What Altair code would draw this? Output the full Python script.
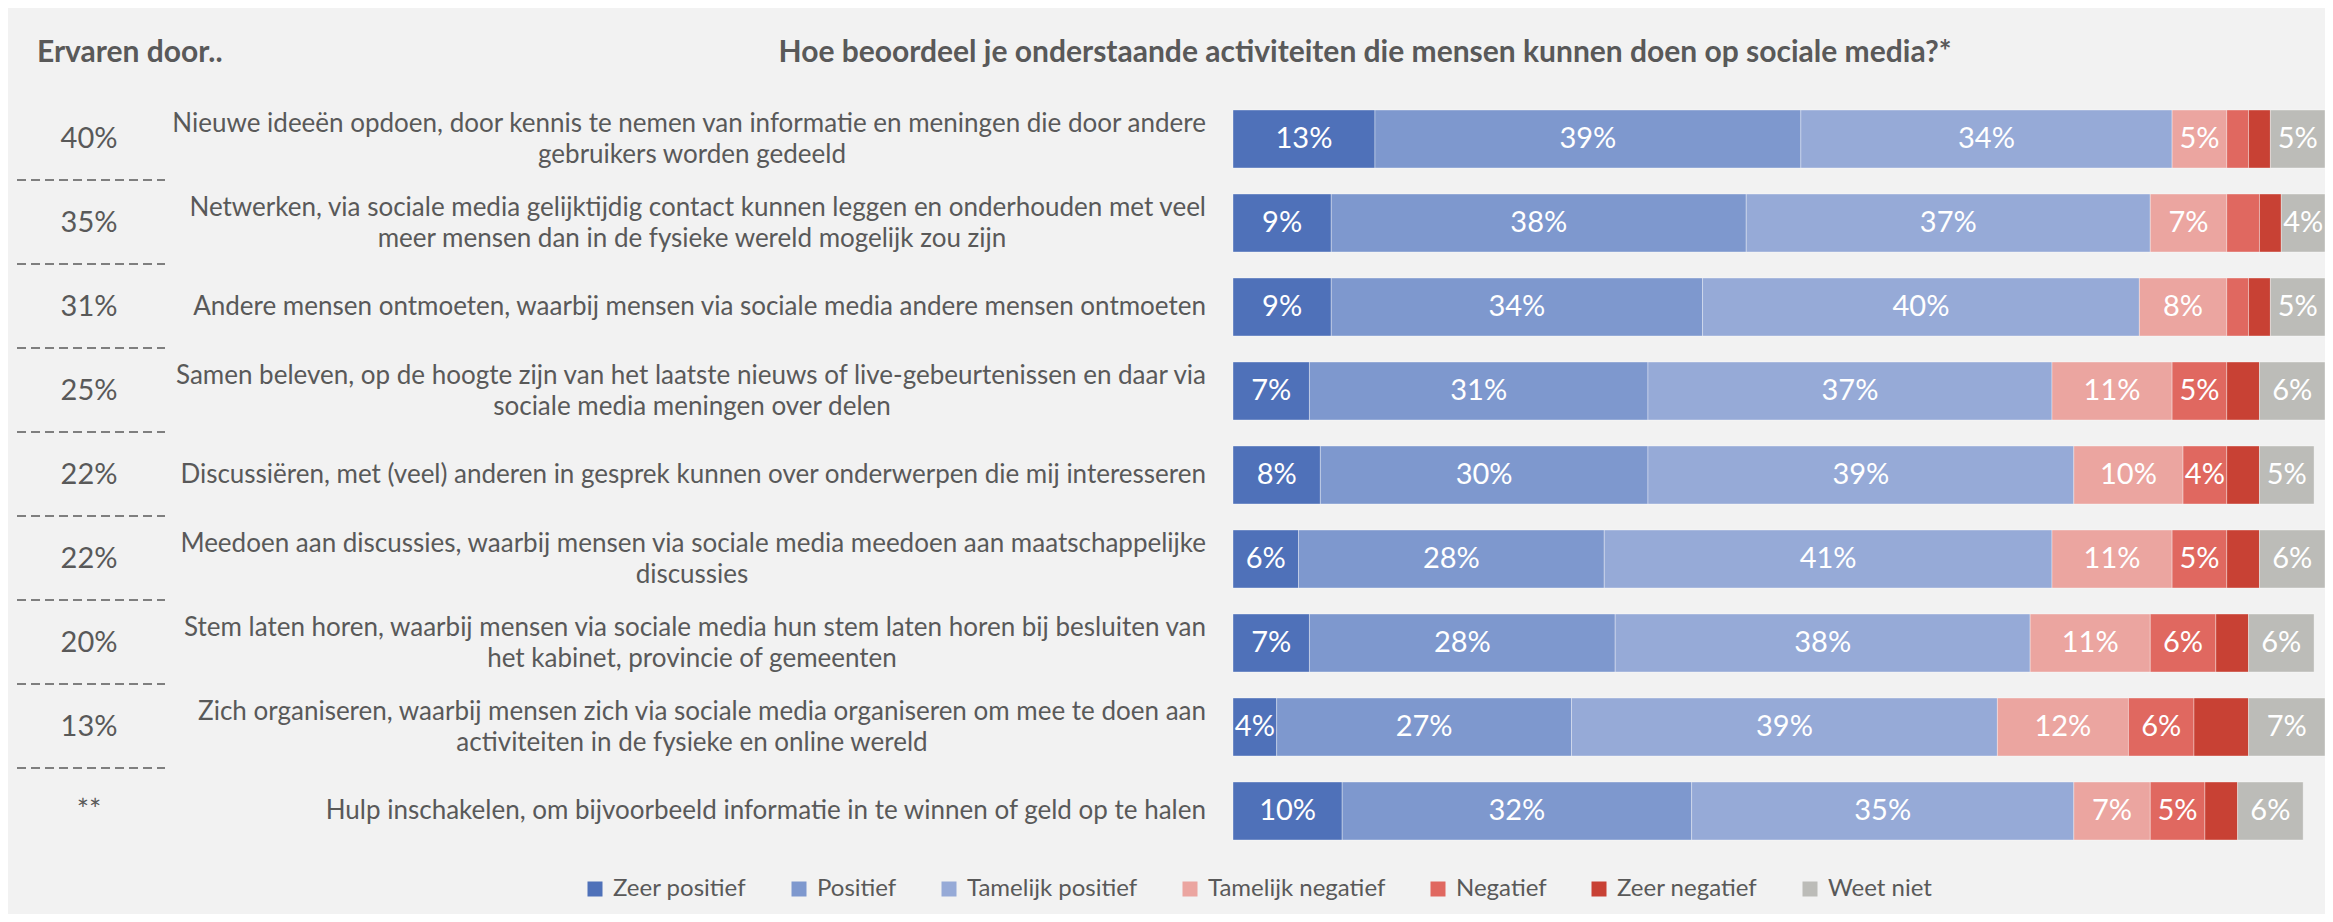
import altair as alt
import pandas as pd

# ---------------- data ----------------
line1 = [
    "Nieuwe ideeën opdoen, door kennis te nemen van informatie en meningen die door andere",
    "Netwerken, via sociale media gelijktijdig contact kunnen leggen en onderhouden met veel",
    "Andere mensen ontmoeten, waarbij mensen via sociale media andere mensen ontmoeten",
    "Samen beleven, op de hoogte zijn van het laatste nieuws of live-gebeurtenissen en daar via",
    "Discussiëren, met (veel) anderen in gesprek kunnen over onderwerpen die mij interesseren",
    "Meedoen aan discussies, waarbij mensen via sociale media meedoen aan maatschappelijke",
    "Stem laten horen, waarbij mensen via sociale media hun stem laten horen bij besluiten van",
    "Zich organiseren, waarbij mensen zich via sociale media organiseren om mee te doen aan",
    "Hulp inschakelen, om bijvoorbeeld informatie in te winnen of geld op te halen",
]
line2 = [
    "gebruikers worden gedeeld",
    "meer mensen dan in de fysieke wereld mogelijk zou zijn",
    "",
    "sociale media meningen over delen",
    "",
    "discussies",
    "het kabinet, provincie of gemeenten",
    "activiteiten in de fysieke en online wereld",
    "",
]
ervaren = ["40%", "35%", "31%", "25%", "22%", "22%", "20%", "13%", "**"]

categories = ["Zeer positief", "Positief", "Tamelijk positief", "Tamelijk negatief",
              "Negatief", "Zeer negatief", "Weet niet"]
colors = ["#4f71b9", "#7e98ce", "#96aad7", "#eba5a0", "#e06860", "#c84134", "#bcbcb8"]

zeer_positief = [13, 9, 9, 7, 8, 6, 7, 4, 10]
positief = [39, 38, 34, 31, 30, 28, 28, 27, 32]
tamelijk_positief = [34, 37, 40, 37, 39, 41, 38, 39, 35]
tamelijk_negatief = [5, 7, 8, 11, 10, 11, 11, 12, 7]
negatief = [2, 3, 2, 5, 4, 5, 6, 6, 5]
zeer_negatief = [2, 2, 2, 3, 3, 3, 3, 5, 3]
weet_niet = [5, 4, 5, 6, 5, 6, 6, 7, 6]

header_left = "Ervaren door.."
title_text = "Hoe beoordeel je onderstaande activiteiten die mensen kunnen doen op sociale media?*"

series = [zeer_positief, positief, tamelijk_positief, tamelijk_negatief,
          negatief, zeer_negatief, weet_niet]

rows = []
for i, a in enumerate(line1):
    for j, c in enumerate(categories):
        rows.append({"act": a, "cat": c, "o": j, "v": series[j][i]})
df = pd.DataFrame(rows)

labels = pd.DataFrame({"act": line1, "l1": line1, "l2": line2, "erv": ervaren,
                       "idx": list(range(len(line1)))})

FONT = "Lato"
TXT = "#595959"
FS_LAB = 26
FS_NUM = 29
FS_HEAD = 30

yenc = alt.Y("act:N", sort=line1, axis=None,
             scale=alt.Scale(paddingInner=0.31, paddingOuter=0.155))
xscale = alt.Scale(domain=[0, 100], nice=False, zero=True)

stacked = alt.Chart(df).transform_stack(
    stack="v", groupby=["act"], sort=[alt.SortField("o", order="ascending")],
    as_=["x0", "x1"]
)

bars = stacked.mark_bar(stroke="#ffffff", strokeWidth=0.7, strokeOpacity=0.5).encode(
    x=alt.X("x0:Q", scale=xscale, axis=None),
    x2="x1:Q",
    y=yenc,
    color=alt.Color(
        "cat:N",
        scale=alt.Scale(domain=categories, range=colors),
        legend=alt.Legend(
            orient="none", legendX=-650, legendY=780, direction="horizontal",
            title=None, symbolType="square", symbolSize=225, symbolStrokeWidth=0,
            labelFont=FONT, labelFontSize=24, labelColor=TXT, labelLimit=0,
            columnPadding=40, labelOffset=6, padding=0,
        ),
    ),
    order=alt.Order("o:Q"),
)

bar_text = stacked.transform_filter(
    "datum.v >= 4 && datum.cat != 'Zeer negatief'"
).transform_calculate(
    mid="(datum.x0 + datum.x1) / 2", lab="datum.v + '%'"
).mark_text(color="white", font=FONT, fontSize=FS_NUM, baseline="middle").encode(
    x=alt.X("mid:Q", scale=xscale, axis=None),
    y=yenc,
    text="lab:N",
)

base_lab = alt.Chart(labels)

lab_two_1 = base_lab.transform_filter("datum.l2 != ''").mark_text(
    align="right", baseline="middle", dy=-15.5, font=FONT, fontSize=FS_LAB, color=TXT
).encode(x=alt.value(-27), y=yenc, text="l1:N")

lab_two_2 = base_lab.transform_filter("datum.l2 != ''").mark_text(
    align="center", baseline="middle", dy=15.5, font=FONT, fontSize=FS_LAB, color=TXT
).encode(x=alt.value(-541), y=yenc, text="l2:N")

lab_one = base_lab.transform_filter("datum.l2 == ''").mark_text(
    align="right", baseline="middle", font=FONT, fontSize=FS_LAB, color=TXT
).encode(x=alt.value(-27), y=yenc, text="l1:N")

erv_text = base_lab.mark_text(
    align="center", baseline="middle", font=FONT, fontSize=FS_NUM, color=TXT
).encode(x=alt.value(-1144), y=yenc, text="erv:N")

seps = base_lab.transform_filter("datum.idx < 8").mark_rule(
    yOffset=41, strokeDash=[9, 5], strokeWidth=1.5, color=TXT
).encode(x=alt.value(-1216), x2=alt.value(-1068), y=yenc)

hdr = alt.Chart(pd.DataFrame({"t": [header_left]})).mark_text(
    align="left", baseline="middle", font=FONT, fontSize=FS_HEAD, fontWeight="bold", color=TXT
).encode(x=alt.value(-1196), y=alt.value(-44), text="t:N")

ttl = alt.Chart(pd.DataFrame({"t": [title_text]})).mark_text(
    align="center", baseline="middle", font=FONT, fontSize=FS_HEAD, fontWeight="bold", color=TXT
).encode(x=alt.value(132), y=alt.value(-44), text="t:N")

chart = alt.layer(
    bars, bar_text, lab_two_1, lab_two_2, lab_one, erv_text, seps, hdr, ttl
).properties(
    width=1092, height=756,
    padding={"left": 1225, "top": 89, "right": 0, "bottom": 61},
    autosize=alt.AutoSizeParams(type="none"),
    background="#f2f2f2",
).configure_view(stroke=None)

chart.save("out.html", embed_options={"renderer": "svg", "actions": False})
